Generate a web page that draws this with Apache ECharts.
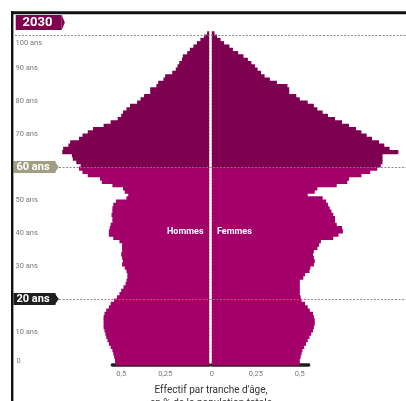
<!DOCTYPE html>
<html>
<head>
<meta charset="utf-8">
<script src="https://cdn.jsdelivr.net/npm/echarts@6/dist/echarts.min.js"></script>
<style>
  html, body { margin: 0; padding: 0; background: #ffffff; }
  #chart { width: 406px; height: 401px; }
</style>
</head>
<body>
<div id="chart"></div>
<script>
// Projected age pyramid for France, 2030 — share of total population per single year of age (%)
const yearLabel = '2030';

// ages 0 .. 100 (one bar per year, 100 = 100 and over)
const ages = [];
for (let a = 0; a <= 100; a++) ages.push(String(a));

const hommes = [
  0.534, 0.535, 0.54, 0.545, 0.55, 0.56, 0.57, 0.578, 0.585, 0.59,
  0.595, 0.60, 0.60, 0.60, 0.60, 0.595, 0.585, 0.57, 0.56, 0.54,
  0.524, 0.51, 0.50, 0.487, 0.475, 0.47, 0.465, 0.465, 0.47, 0.48,
  0.495, 0.49, 0.495, 0.50, 0.495, 0.495, 0.495, 0.51, 0.545, 0.57,
  0.57, 0.565, 0.56, 0.55, 0.55, 0.555, 0.55, 0.55, 0.545, 0.53,
  0.47, 0.46, 0.48, 0.49, 0.55, 0.61, 0.62, 0.69, 0.72, 0.74,
  0.73, 0.755, 0.775, 0.78, 0.835, 0.83, 0.80, 0.79, 0.74, 0.72,
  0.69, 0.66, 0.60, 0.56, 0.52, 0.50, 0.49, 0.47, 0.45, 0.41,
  0.39, 0.37, 0.335, 0.335, 0.30, 0.29, 0.26, 0.25, 0.21, 0.19,
  0.18, 0.17, 0.155, 0.15, 0.125, 0.11, 0.09, 0.07, 0.05, 0.03,
  0.012
];

const femmes = [
  0.50, 0.50, 0.505, 0.51, 0.515, 0.525, 0.535, 0.545, 0.555, 0.565,
  0.575, 0.58, 0.585, 0.585, 0.58, 0.575, 0.557, 0.545, 0.53, 0.51,
  0.505, 0.50, 0.50, 0.50, 0.50, 0.50, 0.52, 0.53, 0.555, 0.56,
  0.58, 0.585, 0.58, 0.575, 0.58, 0.60, 0.61, 0.62, 0.69, 0.72,
  0.745, 0.74, 0.71, 0.70, 0.70, 0.69, 0.68, 0.67, 0.66, 0.65,
  0.63, 0.545, 0.585, 0.60, 0.71, 0.77, 0.78, 0.85, 0.90, 0.94,
  0.96, 0.97, 0.97, 0.97, 1.06, 1.01, 0.98, 0.95, 0.91, 0.88,
  0.85, 0.82, 0.78, 0.74, 0.70, 0.66, 0.63, 0.60, 0.58, 0.545,
  0.50, 0.48, 0.44, 0.44, 0.43, 0.37, 0.33, 0.30, 0.28, 0.26,
  0.245, 0.225, 0.205, 0.18, 0.15, 0.12, 0.10, 0.07, 0.05, 0.03,
  0.015
];

// age axis ticks and their labels
const ageTicks = [0, 10, 20, 30, 40, 50, 60, 70, 80, 90, 100];
const ageTickLabels = ['0', '10 ans', '20 ans', '30 ans', '40 ans', '50 ans', '60 ans', '70 ans', '80 ans', '90 ans', '100 ans'];
// value axis ticks (share of population, %)
const shareTicks = [0, 0.25, 0.5];
const shareTickLabels = ['0', '0,25', '0,5'];
// reference ages marked with a dashed rule
const markedAges = [100, 60, 20];

const seniorAge = 60;
const COL_SENIOR = '#7e0050';
const COL_YOUNG = '#a4006a';

// layout
const GRID_TOP = 31.7;
const GRID_H = 333.3;
const AX_MAX = 0.55;
const PX_PER_UNIT = 176;
const HALF_W = AX_MAX * PX_PER_UNIT;
const LEFT_ZERO = 209.2;
const RIGHT_ZERO = 211.8;
// bars slightly thicker than one age band so neighbouring years touch without seams
const BAR_W = GRID_H / 101 + 0.9;

const chart = echarts.init(document.getElementById('chart'), null, { renderer: 'canvas' });

// one bar per age; the 60+ block gets the darker shade
function toBars(values) {
  return values.map((v, i) => ({
    value: v,
    itemStyle: { color: i >= seniorAge ? COL_SENIOR : COL_YOUNG }
  }));
}

function shareLabel(v) {
  const i = shareTicks.indexOf(Math.round(v * 1000) / 1000);
  return i >= 0 ? shareTickLabels[i] : '';
}

function ageLabel(v) {
  const i = ageTicks.indexOf(v);
  if (i < 0) return '';
  const t = ageTickLabels[i];
  if (v === 60) return '{b60|' + t + '}';
  if (v === 20) return '{b20|' + t + '}';
  if (v === 0) return '{z|' + t + '}';
  if (v === 100) return '{t|' + t + '}';
  return '{n|' + t + '}';
}

const tickText = { color: '#7a7a7a', fontSize: 7.5, fontFamily: 'Roboto' };
const badge = {
  color: '#ffffff', fontSize: 11, fontWeight: 'bold', fontFamily: 'Roboto',
  width: 37, lineHeight: 12, padding: [1, 2, 0, 3]
};

const option = {
  animation: false,
  backgroundColor: '#ffffff',
  grid: [
    { left: LEFT_ZERO - HALF_W, top: GRID_TOP, width: HALF_W, height: GRID_H },
    { left: RIGHT_ZERO, top: GRID_TOP, width: HALF_W, height: GRID_H },
    { left: 13.5, top: GRID_TOP, right: 0, height: GRID_H }
  ],
  xAxis: [
    {
      gridIndex: 0, type: 'value', inverse: true, min: 0, max: AX_MAX, interval: 0.25,
      axisLine: { show: true, lineStyle: { color: '#1e1e1e', width: 3.5 } },
      axisTick: { show: false }, splitLine: { show: false },
      axisLabel: {
        margin: 5, ...tickText,
        formatter: v => (v === 0 ? '' : shareLabel(v))
      }
    },
    {
      gridIndex: 1, type: 'value', min: 0, max: AX_MAX, interval: 0.25,
      axisLine: { show: true, lineStyle: { color: '#1e1e1e', width: 3.5 } },
      axisTick: { show: false }, splitLine: { show: false },
      axisLabel: { margin: 5, ...tickText, formatter: shareLabel }
    },
    { gridIndex: 2, type: 'value', min: 13.5, max: 406, show: false }
  ],
  yAxis: [
    { gridIndex: 0, type: 'category', data: ages, show: false },
    { gridIndex: 1, type: 'category', data: ages, show: false },
    {
      gridIndex: 2, type: 'value', min: 0, max: 101, interval: 10,
      axisLine: { show: false }, axisTick: { show: false }, splitLine: { show: false },
      axisLabel: {
        show: true, align: 'left', margin: 0,
        formatter: ageLabel,
        rich: {
          n: { ...tickText, padding: [0, 0, 0, 2] },
          z: { ...tickText, padding: [0, 0, 8, 3] },
          t: { ...tickText, padding: [16, 0, 0, 2] },
          b60: { ...badge, backgroundColor: '#a19e84' },
          b20: { ...badge, backgroundColor: '#1f1f1f' }
        }
      }
    }
  ],
  series: [
    {
      name: 'Hommes', type: 'bar', xAxisIndex: 0, yAxisIndex: 0,
      data: toBars(hommes), barWidth: BAR_W, clip: false, silent: true
    },
    {
      name: 'Femmes', type: 'bar', xAxisIndex: 1, yAxisIndex: 1,
      data: toBars(femmes), barWidth: BAR_W, clip: false, silent: true
    },
    {
      name: 'repères', type: 'scatter', xAxisIndex: 2, yAxisIndex: 2,
      data: [], z: 6, silent: true,
      markLine: {
        silent: true, symbol: 'none', label: { show: false },
        lineStyle: { color: '#7d7d7d', width: 0.9, type: [2, 1.5] },
        data: markedAges.map(a => [
          { coord: [a === 100 ? 15 : 59, a] },
          { coord: [406, a] }
        ])
      },
      markPoint: {
        silent: true, symbol: 'triangle', symbolRotate: -90, symbolSize: [11, 4],
        label: { show: false },
        data: [
          { coord: [56.8, 60], itemStyle: { color: '#a19e84' } },
          { coord: [56.8, 20], itemStyle: { color: '#1f1f1f' } }
        ]
      }
    }
  ],
  graphic: [
    // frame
    { type: 'line', shape: { x1: 11, y1: 12.8, x2: 406, y2: 12.8 }, style: { stroke: '#111', lineWidth: 3 }, z: 10 },
    { type: 'line', shape: { x1: 12.2, y1: 11.3, x2: 12.2, y2: 401 }, style: { stroke: '#111', lineWidth: 2.4 }, z: 10 },
    // year badge
    { type: 'rect', shape: { x: 15.7, y: 15, width: 46, height: 15 }, style: { fill: COL_SENIOR }, z: 10 },
    { type: 'polygon', shape: { points: [[61.7, 15], [64.8, 22.5], [61.7, 30]] }, style: { fill: COL_SENIOR }, z: 10 },
    {
      type: 'text', x: 37.5, y: 22.8, z: 11,
      style: { text: yearLabel, fill: '#fff', font: 'bold 13px Roboto', textAlign: 'center', textVerticalAlign: 'middle' }
    },
    // sex labels
    {
      type: 'text', x: 203.5, y: 231.5, z: 11,
      style: { text: 'Hommes', fill: '#fff', font: 'bold 9px Roboto', textAlign: 'right', textVerticalAlign: 'middle' }
    },
    {
      type: 'text', x: 217, y: 231.5, z: 11,
      style: { text: 'Femmes', fill: '#fff', font: 'bold 9px Roboto', textAlign: 'left', textVerticalAlign: 'middle' }
    },
    // value axis caption
    {
      type: 'text', x: 211, y: 383.5, z: 11,
      style: {
        text: "Effectif par tranche d'âge,\nen % de la population totale",
        fill: '#333', font: '10px Roboto', textAlign: 'center', lineHeight: 13
      }
    }
  ]
};

chart.setOption(option);
</script>
</body>
</html>
